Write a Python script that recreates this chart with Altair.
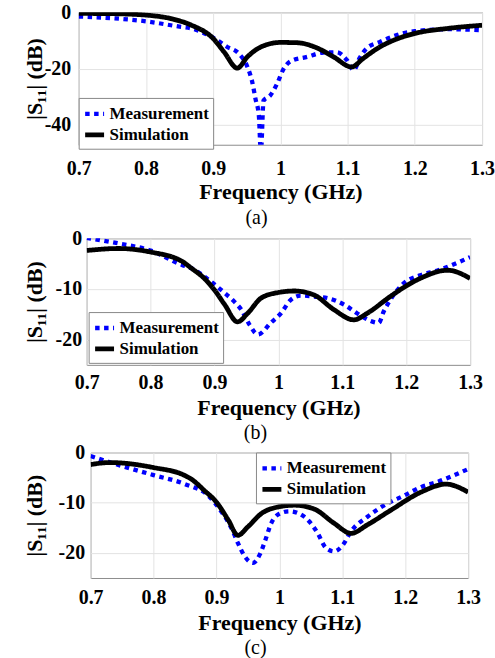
import altair as alt
import pandas as pd

# ---------------- data ----------------
# Panel (a)
a_meas_f = [0.70, 0.75, 0.80, 0.85, 0.867, 0.906, 0.921, 0.938, 0.951, 0.958, 0.963, 0.968, 0.971,
            0.975, 0.985, 0.995, 1.005, 1.015, 1.04, 1.064, 1.084, 1.099, 1.109, 1.118, 1.128,
            1.148, 1.173, 1.20, 1.25, 1.30]
a_meas_v = [-1.5, -2.1, -3.2, -5.1, -5.7, -9.9, -12.3, -14.6, -19.4, -24.6, -30.7, -36.7, -50.0,
            -31.3, -29.5, -25.4, -20.0, -17.4, -15.8, -14.3, -14.2, -17.0, -20.6, -16.2, -12.9,
            -10.5, -8.1, -6.7, -6.0, -6.4]
a_sim_f = [0.70, 0.75, 0.80, 0.84, 0.867, 0.90, 0.916, 0.936, 0.951, 0.971, 1.00, 1.025, 1.054,
           1.079, 1.106, 1.123, 1.148, 1.173, 1.20, 1.25, 1.30]
a_sim_v = [-0.4, -0.5, -1.0, -2.4, -4.5, -9.3, -14.0, -19.8, -15.8, -12.3, -10.7, -10.8, -12.6,
           -15.8, -19.4, -16.4, -12.3, -9.5, -7.5, -5.7, -4.6]

# Panel (b)
b_meas_f = [0.70, 0.75, 0.80, 0.85, 0.864, 0.895, 0.916, 0.931, 0.942, 0.955, 0.968, 0.988, 1.004,
            1.019, 1.035, 1.056, 1.077, 1.103, 1.123, 1.144, 1.157, 1.165, 1.175, 1.196, 1.222,
            1.25, 1.30]
b_meas_v = [0.1, -1.0, -2.4, -5.3, -5.9, -8.6, -10.8, -12.5, -14.1, -17.1, -19.0, -16.7, -14.8,
            -12.2, -11.3, -11.5, -11.8, -13.1, -14.8, -16.3, -16.7, -14.4, -12.2, -8.9, -7.3,
            -6.3, -3.7]
b_sim_f = [0.70, 0.75, 0.80, 0.85, 0.864, 0.884, 0.90, 0.916, 0.936, 0.952, 0.973, 1.00, 1.025,
           1.056, 1.087, 1.118, 1.139, 1.175, 1.20, 1.222, 1.265, 1.30]
b_sim_v = [-2.4, -2.0, -2.7, -4.6, -5.9, -7.9, -10.2, -13.1, -16.5, -14.8, -11.8, -10.7, -10.4,
           -11.2, -14.1, -16.1, -14.8, -11.5, -9.4, -7.9, -6.3, -7.9]

# Panel (c)
c_meas_f = [0.70, 0.75, 0.80, 0.85, 0.887, 0.908, 0.924, 0.934, 0.945, 0.958, 0.969, 0.977, 0.987,
            1.00, 1.016, 1.032, 1.048, 1.061, 1.074, 1.087, 1.101, 1.114, 1.14, 1.167, 1.198,
            1.225, 1.25, 1.30]
c_meas_v = [-0.7, -2.7, -4.5, -6.3, -8.6, -11.8, -15.1, -18.0, -20.7, -22.0, -20.3, -17.7, -14.1,
            -12.2, -11.7, -12.2, -13.8, -16.1, -19.0, -19.7, -18.4, -15.7, -12.8, -10.5, -8.6,
            -6.9, -5.9, -3.3]
c_sim_f = [0.70, 0.73, 0.80, 0.85, 0.86, 0.881, 0.90, 0.919, 0.934, 0.95, 0.971, 1.00, 1.024,
           1.056, 1.087, 1.114, 1.14, 1.177, 1.225, 1.265, 1.30]
c_sim_v = [-2.4, -2.0, -3.0, -4.6, -5.3, -7.6, -9.9, -13.5, -16.5, -14.8, -12.2, -10.8, -10.5,
           -11.3, -14.1, -16.1, -14.4, -11.5, -7.9, -6.3, -7.9]

series_names = ["Measurement", "Simulation"]
x_ticks = [0.7, 0.8, 0.9, 1.0, 1.1, 1.2, 1.3]

SERIF = "Liberation Serif"


def frame(mf, mv, sf, sv):
    rows = []
    for f, v in zip(mf, mv):
        rows.append({"f": f, "v": v, "series": series_names[0]})
    for f, v in zip(sf, sv):
        rows.append({"f": f, "v": v, "series": series_names[1]})
    return pd.DataFrame(rows)


def panel(df, width, height, ymin, yticks, lx, ly, lab_pad, title_x, xlab_pad, xtitle_pad,
          caption, cap_dx, cap_off):
    legend = alt.Legend(
        title=None, orient="none", legendX=lx, legendY=ly,
        symbolType="stroke", symbolSize=361, symbolStrokeWidth=4.5,
        labelFont=SERIF, labelFontSize=17, labelFontWeight="bold", labelColor="black",
        strokeColor="#888888", fillColor="white", padding=4, rowPadding=0,
        labelOffset=3, cornerRadius=0, labelLimit=300,
    )
    return alt.Chart(df).mark_line(interpolate="monotone", clip=True).encode(
        x=alt.X("f:Q", scale=alt.Scale(domain=[0.7, 1.3], nice=False, zero=False),
                axis=alt.Axis(values=x_ticks, format=".1~f", title="Frequency (GHz)",
                              labelFlush=False, labelPadding=xlab_pad, titlePadding=xtitle_pad)),
        y=alt.Y("v:Q", scale=alt.Scale(domain=[ymin, 0], nice=False, zero=False),
                axis=alt.Axis(values=yticks, labelExpr="'' + datum.value", title="|S₁₁| (dB)",
                              labelFlush=False, labelPadding=lab_pad, titleX=title_x,
                              titleBaseline="alphabetic")),
        color=alt.Color("series:N", scale=alt.Scale(domain=series_names, range=["#0000ff", "#000000"]),
                        legend=legend),
        strokeDash=alt.StrokeDash("series:N", scale=alt.Scale(domain=series_names, range=[[4.5, 4.5], [1, 0]]),
                                  legend=legend),
        strokeWidth=alt.StrokeWidth("series:N", scale=alt.Scale(domain=series_names, range=[4.3, 4.8]),
                                    legend=None),
    ).properties(
        width=width, height=height,
        title=alt.TitleParams(caption, orient="bottom", anchor="middle", dx=cap_dx,
                              font=SERIF, fontSize=20, fontWeight="normal", color="black",
                              offset=cap_off),
    )


def spacer():
    return alt.Chart(pd.DataFrame({"s": [0]})).mark_point(opacity=0).encode(
        x=alt.value(0), y=alt.value(0)
    ).properties(width=1, height=1, view=alt.ViewConfig(stroke="transparent"))


def independent(c):
    return c.resolve_scale(color="independent", strokeDash="independent",
                           strokeWidth="independent")


pa = panel(frame(a_meas_f, a_meas_v, a_sim_f, a_sim_v), 405, 133, -47, [-40, -20, 0],
           0, 86, 8, -37, 14, 3, "(a)", -24, 6)
pb = panel(frame(b_meas_f, b_meas_v, b_sim_f, b_sim_v), 385, 127, -25, [-20, -10, 0],
           2, 74, 5, -45, 8, 5, "(b)", -23, 4)
pc = panel(frame(c_meas_f, c_meas_v, c_sim_f, c_sim_v), 379, 126, -25, [-20, -10, 0],
           166, 0, 6, -49, 10, 5, "(c)", -24, 4)

rows = [independent(alt.hconcat(spacer(), p, spacing=0)) for p in (pa, pb, pc)]

chart = independent(alt.vconcat(*rows, spacing=-2)).properties(
    padding={"left": 15, "top": 0, "right": 0, "bottom": 0},
    background="white",
).configure_view(
    stroke="#8c8c8c", strokeWidth=1
).configure_axis(
    labelFont=SERIF, labelFontSize=20, labelFontWeight="bold", labelColor="black",
    titleFont=SERIF, titleFontSize=22, titleFontWeight="bold", titleColor="black",
    grid=True, gridColor="#e3e3e3", gridWidth=1, domain=False, ticks=False,
)

chart.save("out.html", embed_options={"renderer": "svg", "actions": False})
